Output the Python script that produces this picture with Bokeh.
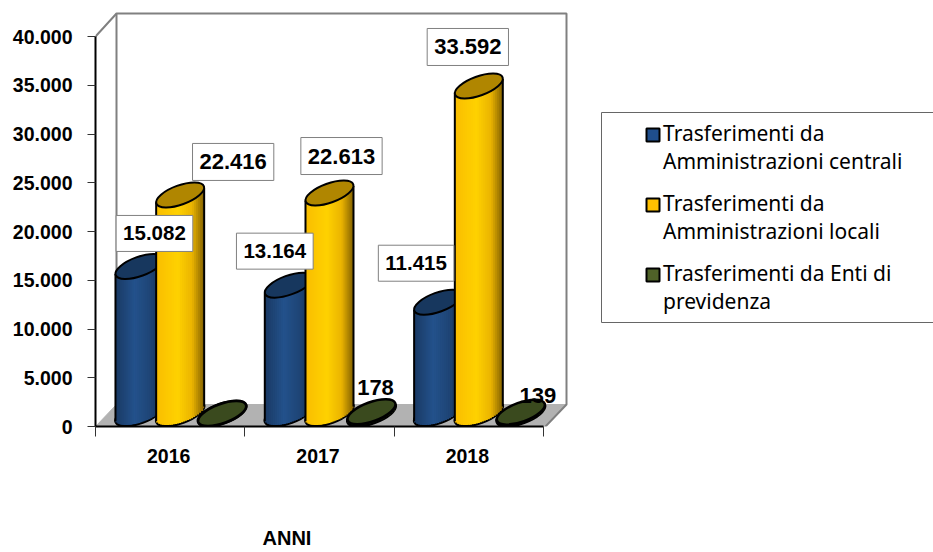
import numpy as np
from bokeh.core.properties import value
from bokeh.embed import file_html
from bokeh.models import ColumnDataSource, FixedTicker, Legend, LegendItem, Range1d, Title
from bokeh.plotting import figure
from bokeh.resources import INLINE

years = ["2016", "2017", "2018"]
central = [15082, 13164, 11415]
local = [22416, 22613, 33592]
enti = [0, 178, 139]
series_names = ["Trasferimenti da\nAmministrazioni centrali",
                "Trasferimenti da\nAmministrazioni locali",
                "Trasferimenti da Enti di\nprevidenza"]
y_ticks = [0, 5000, 10000, 15000, 20000, 25000, 30000, 35000, 40000]
y_tick_labels = ["0", "5.000", "10.000", "15.000", "20.000", "25.000", "30.000", "35.000", "40.000"]

W, H = 933, 552
PAGE_X0, PAGE_Y0 = 95, 426
UNIT_PX = 149.33
PX_VAL = 40000 / 390
FONT = "Liberation Sans"


def X(px):
    return (px - PAGE_X0) / UNIT_PX


def Y(py):
    return (PAGE_Y0 - py) * PX_VAL


p = figure(width=W, height=H, output_backend="svg", toolbar_location=None,
           x_range=Range1d(0, (W - PAGE_X0) / UNIT_PX),
           y_range=Range1d(0, PAGE_Y0 * PX_VAL),
           frame_width=W - PAGE_X0, frame_height=PAGE_Y0,
           min_border_left=PAGE_X0, min_border_right=0, min_border_top=0, min_border_bottom=H - PAGE_Y0,
           outline_line_color=None, background_fill_color="white", border_fill_color="white")
p.grid.visible = False

ax = p.yaxis[0]
ax.ticker = FixedTicker(ticks=y_ticks)
ax.major_label_overrides = dict(zip(y_ticks, y_tick_labels))
ax.bounds = (0, 40000)
ax.axis_line_width = 2
ax.axis_line_color = "black"
ax.major_tick_in = 0
ax.major_tick_out = 8
ax.major_tick_line_color = "#333333"
ax.minor_tick_line_color = None
ax.major_label_text_font = FONT
ax.major_label_text_font_style = "bold"
ax.major_label_text_font_size = "19.5px"
ax.major_label_text_color = "black"
ax.major_label_standoff = 15

bx = p.xaxis[0]
bx.ticker = FixedTicker(ticks=[0.49, 1.49, 2.49], minor_ticks=[0, 1, 2, 3])
bx.major_label_overrides = {0.49: years[0], 1.49: years[1], 2.49: years[2]}
bx.bounds = (0, 3)
bx.axis_line_width = 2
bx.axis_line_color = "black"
bx.major_tick_line_color = None
bx.minor_tick_in = 0
bx.minor_tick_out = 10
bx.minor_tick_line_color = "#333333"
bx.major_label_text_font = FONT
bx.major_label_text_font_style = "bold"
bx.major_label_text_font_size = "19.5px"
bx.major_label_text_color = "black"
bx.major_label_standoff = 12

t = Title(text="ANNI", align="left", offset=262 - PAGE_X0, standoff=118,
          text_font=FONT, text_font_style="bold", text_font_size="20px", text_color="black")
p.add_layout(t, "below")

# floor and back wall
p.patch([X(95), X(545), X(566), X(116)], [Y(426), Y(426), Y(404), Y(404)],
        fill_color="#b2b2b2", line_color="#b2b2b2")
p.line([X(95), X(116), X(566), X(566), X(545)], [Y(36), Y(13), Y(13), Y(404), Y(426)],
       line_color="#808080", line_width=2)
p.line([X(116), X(116)], [Y(13), Y(404)], line_color="#808080", line_width=2)

# cylinders
THETA = np.deg2rad(20)
A_, B_ = 25.3, 9.6
c, s = np.cos(THETA), np.sin(THETA)
HALF = np.sqrt(A_**2 * c**2 + B_**2 * s**2)
DEPTH = 13 * PX_VAL
N = 24


def lower(dx):
    a = s**2 / A_**2 + c**2 / B_**2
    b = 2 * dx * s * c * (1 / A_**2 - 1 / B_**2)
    cc = dx**2 * (c**2 / A_**2 + s**2 / B_**2) - 1
    d = np.clip(b**2 - 4 * a * cc, 0, None)
    return (-b - np.sqrt(d)) / (2 * a)


def shade(stops, n):
    pos = [q[0] for q in stops]
    out = []
    ts = (np.arange(n) + 0.5) / n
    for i in range(3):
        out.append(np.interp(ts, pos, [q[1][i] for q in stops]))
    return ["#%02x%02x%02x" % (int(r), int(g), int(b)) for r, g, b in zip(*out)]


def cylinders(values, offset, stops, top_color, line_w=2):
    cols = shade(stops, N)
    edges = np.linspace(-HALF, HALF, N + 1)
    mids = (edges[:-1] + edges[1:]) / 2
    low = lower(np.clip(mids, -HALF + 0.01, HALF - 0.01))
    centers = (np.arange(len(values)) + 0.5) + offset
    bases = np.full(len(values), DEPTH)
    tops = np.array(values, float) + DEPTH
    p.ellipse(centers, bases, width=2 * A_, height=2 * B_, angle=20, angle_units="deg",
              width_units="screen", height_units="screen",
              fill_color=cols[N // 2], line_color="black", line_width=line_w + 0.5)
    L, R, T, Bo, C = [], [], [], [], []
    for cx, top in zip(centers, tops):
        for i in range(N):
            L.append(cx + edges[i] / UNIT_PX)
            R.append(cx + (edges[i + 1] + (1.0 if i < N - 1 else 0)) / UNIT_PX)
            T.append(top + low[i] * PX_VAL)
            Bo.append(DEPTH + low[i] * PX_VAL + 1.0 * PX_VAL)
            C.append(cols[i])
    p.quad(left=L, right=R, top=T, bottom=Bo, fill_color=C, line_color=None)
    for sign in (-1, 1):
        ex = centers + sign * HALF / UNIT_PX
        edge_low = lower(sign * (HALF - 0.01)) * PX_VAL
        p.segment(ex, bases + edge_low, ex, tops + edge_low, line_color="black", line_width=line_w)
    p.ellipse(centers, tops, width=2 * A_, height=2 * B_, angle=20, angle_units="deg",
              width_units="screen", height_units="screen",
              fill_color=top_color, line_color="black", line_width=line_w)


blue_stops = [(0, (26, 58, 100)), (0.4, (36, 82, 140)), (0.75, (30, 68, 116)), (1, (18, 40, 70))]
yellow_stops = [(0, (250, 190, 0)), (0.45, (255, 210, 0)), (0.75, (235, 180, 0)), (1, (130, 96, 0))]
green_stops = [(0, (50, 62, 26)), (1, (50, 62, 26))]

BLUE_OFF, YELLOW_OFF, GREEN_OFF = -30.7 / UNIT_PX, 10 / UNIT_PX, 52 / UNIT_PX
cylinders(central, BLUE_OFF, blue_stops, "#17375e")
cylinders(local, YELLOW_OFF, yellow_stops, "#b08600")
cylinders(enti, GREEN_OFF, green_stops, "#3a4a1e", 2.5)

# data labels
fmt = lambda v: f"{v:,}".replace(",", ".")
boxed_x, boxed_y, boxed_t = [], [], []
for series, centre_off in ((central, BLUE_OFF), (local, YELLOW_OFF)):
    for i, v in enumerate(series):
        boxed_x.append(i + 0.5 + centre_off)
        boxed_y.append(v + DEPTH)
        boxed_t.append(fmt(v))
src = ColumnDataSource(dict(x=boxed_x, y=boxed_y, t=boxed_t,
                            size=["20.5px"] * 3 + ["22px"] * 3,
                            dx=[15, -14, -22, 53, 12, -11], dy=[-33, -34, -39, -33, -37, -39]))
p.text("x", "y", text="t", source=src, x_offset="dx", y_offset="dy",
       text_align="center", text_baseline="middle",
       text_font=value(FONT), text_font_style="bold", text_font_size="size", text_color="black",
       background_fill_color="white", border_line_color="#808080", border_line_width=1,
       padding=(7, 11))

plain = [(i, v) for i, v in enumerate(enti) if v]
p.text([i + 0.5 + GREEN_OFF for i, _ in plain], [v + DEPTH for _, v in plain],
       text=[fmt(v) for _, v in plain], x_offset=[4, 17], y_offset=[-24, -17],
       text_align="center", text_baseline="middle",
       text_font=value(FONT), text_font_style="bold", text_font_size="22px", text_color="black")

# legend
p.quad(left=[X(601)], right=[X(W + 20)], top=[Y(112)], bottom=[Y(322)],
       fill_color="white", line_color="#666666", line_width=1)
swatch_cols = ["#1f4e8c", "#ffc000", "#4f6228"]
swatch_tops = [127, 197, 267]
items = []
for name, col, st in zip(series_names, swatch_cols, swatch_tops):
    p.quad(left=[X(646)], right=[X(659)], top=[Y(st + 1)], bottom=[Y(st + 14)],
           fill_color=col, line_color="black", line_width=2)
    r = p.quad(left=[-2], right=[-1], top=[1], bottom=[0], fill_alpha=0, line_alpha=0)
    items.append(LegendItem(label=name, renderers=[r]))
leg = Legend(items=items, location=(645 - PAGE_X0, PAGE_Y0 - 316 + 1), orientation="vertical",
             border_line_color=None, background_fill_alpha=0, glyph_width=14, glyph_height=14,
             label_standoff=4, label_text_font="Noto Sans", label_text_font_size="21px",
             label_text_color="black", padding=0, spacing=14, margin=0)
p.add_layout(leg, "center")

open("out.html", "w").write(file_html(p, INLINE))
